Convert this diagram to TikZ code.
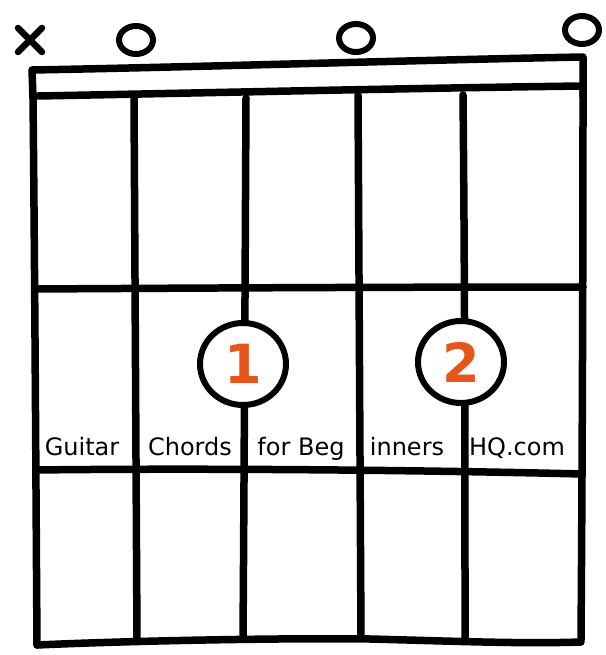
\documentclass[tikz,border=0pt]{standalone}
\usepackage{fontspec}
\setmainfont{DejaVu Sans}
\usetikzlibrary{shapes.geometric}
\definecolor{fingerorange}{HTML}{E4561B}
\begin{document}
\begin{tikzpicture}[x=1pt,y=-1pt, line cap=round, line join=round,
  ink/.style={line width=7.5pt},
  openmark/.style={ellipse, draw, line width=6pt, minimum width=34pt, minimum height=28pt, inner sep=0pt},
  finger/.style={ellipse, draw, line width=6pt, fill=white, minimum width=86pt, minimum height=82pt, inner sep=0pt, text=fingerorange, font=\bfseries\fontsize{54}{54}\selectfont},
  brand/.style={font=\fontsize{24}{24}\selectfont, inner sep=0pt, anchor=base}]
\useasboundingbox (0,0) rectangle (605,655);
% nut (top rectangle)
\draw[ink] (33,98) -- (32,70) .. controls (200,67) and (420,60) .. (583,57) -- (583,96);
\draw[ink] (38,96) .. controls (200,93) and (420,88) .. (583,86);
% frame sides and strings
\draw[ink] (33,96) .. controls (35,300) and (36,500) .. (37,645);
\draw[ink] (134,98) -- (137,640);
\draw[ink] (246,98) .. controls (245,300) and (244,500) .. (243,638);
\draw[ink] (358,95) -- (361,638);
\draw[ink] (463,95) .. controls (465,300) and (465,500) .. (465,640);
\draw[ink] (583,90) .. controls (583,300) and (582,500) .. (581,640);
% frets
\draw[ink] (35,289) .. controls (200,288) and (400,287) .. (583,287);
\draw[ink] (36,470) .. controls (200,468) and (420,470) .. (582,474);
\draw[ink] (37,645) .. controls (150,640) and (300,638) .. (370,639) .. controls (450,641) and (520,644) .. (581,642);
% muted and open strings
\node (mute) at (30,40) {};
\draw[line width=6.5pt] (18,28) -- (42,52) (42,28) -- (18,52);
\node[openmark] (open5) at (136,40) {};
\node[openmark] (open3) at (356,38) {};
\node[openmark] (open1) at (582,30) {};
% fingers
\node[finger] (f1) at (243,364) {1};
\node[finger] (f2) at (461,362) {2};
% watermark text
\node[brand] (t1) at (82,455) {Guitar};
\node[brand] (t2) at (190,455) {Chords};
\node[brand] (t3) at (301,455) {for Beg};
\node[brand] (t4) at (407,455) {inners};
\node[brand] (t5) at (517,455) {HQ.com};
\end{tikzpicture}
\end{document}
